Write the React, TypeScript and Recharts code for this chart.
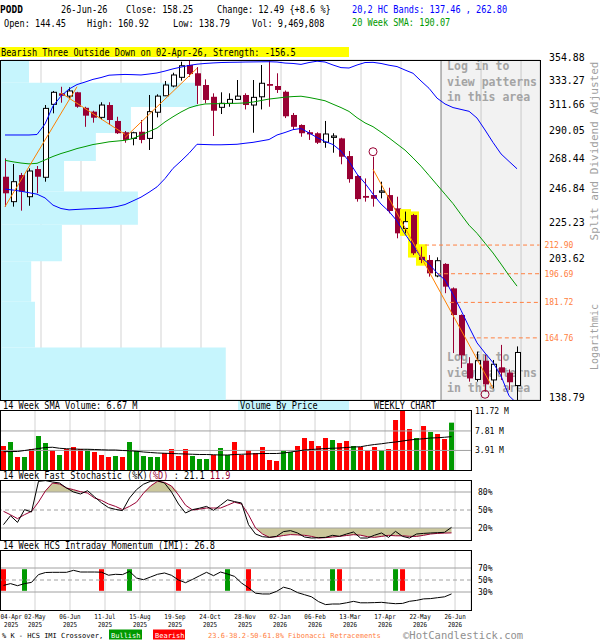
import React from 'react'
import {
  ComposedChart,
  Bar,
  Line,
  Area,
  XAxis,
  YAxis,
  CartesianGrid,
  ReferenceLine,
  ReferenceArea,
  ReferenceDot,
  Cell,
} from 'recharts'

const MONO = '"DejaVu Sans Mono", monospace'
const MAROON = '#990033'
const GREEN = '#009900'
const RED = '#ff0000'
const ORANGE = '#ff8000'
const FIB = '#ff8040'
const CYAN = '#c6f5fd'
const GRID = '#d3d3d3'
const LEVEL = '#a0a0a0'
const KHAKI = '#cbc79b'

// weekly candles, 04-Apr-2025 .. 26-Jun-2026
const opens = [
  257.1, 240.0, 258.3, 243.3, 262.6, 256.7, 314.0, 323.7, 321.2, 324.6,
  311.0, 307.7, 302.9, 313.4, 299.9, 290.7, 285.8, 291.1, 285.8, 307.2,
  321.5, 330.3, 338.3, 350.0, 342.1, 331.2, 320.6, 311.4, 314.9, 318.3,
  322.2, 313.4, 320.6, 332.1, 330.3, 325.1, 304.9, 296.6, 290.7, 289.9,
  282.8, 286.6, 285.8, 272.2, 257.6, 243.8, 244.4, 246.3, 244.4, 235.6,
  222.9, 231.3, 206.1, 204.3, 195.5, 202.1, 188.9, 175.5, 153.6, 146.9,
  154.7, 146.7, 151.9, 149.7, 144.45,
]
const highs = [
  270.5, 266.3, 259.8, 263.1, 264.8, 313.4, 325.8, 329.6, 329.1, 325.0,
  311.9, 308.5, 315.8, 315.8, 303.4, 291.7, 291.1, 300.7, 322.2, 322.8,
  334.9, 342.6, 353.2, 354.88, 348.0, 336.4, 323.7, 324.6, 323.7, 335.8,
  323.7, 335.8, 350.0, 354.5, 342.1, 326.2, 306.6, 297.1, 292.5, 290.7,
  299.9, 289.9, 286.3, 276.0, 258.3, 255.9, 271.7, 253.6, 249.4, 243.3,
  233.5, 232.0, 211.9, 207.1, 205.8, 202.5, 189.4, 175.8, 156.2, 158.6,
  157.2, 155.0, 161.6, 151.0, 160.92,
]
const lows = [
  236.7, 236.7, 234.1, 237.3, 245.6, 253.6, 306.3, 315.4, 319.7, 311.0,
  295.1, 298.5, 301.2, 296.6, 289.3, 282.4, 280.4, 282.0, 276.8, 302.9,
  321.2, 329.1, 335.2, 338.8, 314.3, 314.9, 287.7, 305.7, 311.9, 318.0,
  309.6, 290.3, 309.6, 311.9, 324.0, 302.3, 292.5, 287.1, 284.6, 281.4,
  278.5, 274.7, 266.1, 252.9, 240.0, 240.0, 236.7, 242.2, 232.4, 216.9,
  219.9, 207.1, 202.5, 195.1, 194.8, 186.4, 158.0, 151.6, 146.0, 146.0,
  142.0, 143.3, 146.7, 142.7, 138.79,
]
const closes = [
  245.6, 253.6, 246.7, 261.2, 257.1, 310.5, 324.6, 321.5, 325.8, 311.9,
  304.3, 302.6, 313.4, 300.7, 289.9, 284.6, 290.3, 284.6, 307.7, 321.2,
  331.2, 340.5, 349.3, 341.4, 330.5, 317.8, 308.5, 314.9, 318.3, 321.2,
  313.4, 320.1, 332.8, 330.5, 326.7, 303.8, 295.1, 289.9, 289.0, 282.4,
  289.3, 287.7, 271.7, 255.4, 241.7, 242.6, 241.9, 247.2, 233.9, 219.9,
  227.1, 208.1, 204.3, 196.9, 203.9, 189.8, 175.5, 157.0, 147.3, 154.7,
  144.9, 153.2, 149.7, 145.76, 158.25,
]

// 20,2 bands and 20 week SMA
const upperBand = [
  288.5, 288.5, 288.5, 288.5, 288.9, 297.4, 312.5, 321.2, 327.5, 331.6,
  333.9, 336.4, 338.1, 340.3, 340.7, 341.0, 340.8, 340.5, 341.4, 342.4,
  344.2, 346.3, 348.0, 349.6, 350.8, 351.5, 352.0, 352.4, 352.6, 352.7,
  352.9, 353.0, 353.1, 353.2, 352.9, 351.9, 351.5, 350.6, 352.4, 353.7,
  352.9, 350.0, 347.5, 347.1, 350.0, 352.4, 352.6, 351.5, 349.8, 348.5,
  345.2, 342.1, 334.9, 328.2, 319.4, 314.3, 311.2, 309.6, 308.0, 302.3,
  292.5, 282.6, 273.8, 268.2, 262.8,
]
const sma20 = [
  269.0, 267.9, 267.0, 266.4, 266.8, 269.3, 271.9, 274.1, 275.9, 277.9,
  279.4, 281.0, 282.0, 283.1, 283.7, 284.3, 285.7, 288.5, 291.3, 294.1,
  299.1, 303.4, 307.4, 310.9, 313.0, 314.3, 314.5, 314.6, 314.7, 314.9,
  315.2, 316.0, 317.3, 318.6, 319.4, 320.3, 320.8, 321.1, 320.0, 318.6,
  317.1, 314.1, 311.2, 307.9, 302.6, 298.3, 295.2, 290.8, 286.2, 281.4,
  276.7, 270.8, 264.7, 258.0, 251.4, 245.0, 238.7, 231.6, 224.9, 219.9,
  214.0, 208.3, 202.0, 195.7, 190.07,
]
const lowerBand = [
  248.5, 247.8, 247.0, 246.0, 245.0, 242.5, 237.7, 235.5, 234.6, 234.9,
  235.2, 235.4, 235.7, 236.0, 236.8, 238.1, 240.5, 243.0, 246.3, 250.0,
  255.8, 263.1, 268.5, 274.3, 281.2, 281.0, 280.8, 280.8, 281.0, 281.2,
  282.0, 282.7, 283.8, 284.9, 288.5, 290.5, 292.8, 293.7, 290.2, 286.5,
  283.4, 281.0, 276.0, 268.2, 259.0, 252.5, 245.1, 238.4, 233.6, 227.5,
  219.5, 212.6, 205.7, 202.1, 197.1, 193.3, 185.7, 177.8, 169.8, 162.5,
  158.0, 153.9, 148.3, 140.4, 137.46,
]

// volume, millions of shares
const volumes = [
  4.8, 5.6, 2.6, 2.6, 4.2, 6.8, 5.4, 4.0, 3.0, 4.2,
  4.6, 4.2, 4.1, 3.6, 3.0, 2.6, 2.8, 2.6, 5.6, 3.8,
  2.8, 2.6, 2.6, 3.4, 4.2, 2.8, 4.2, 2.8, 2.2, 2.2,
  3.0, 4.4, 3.0, 5.6, 3.0, 4.0, 3.4, 4.6, 2.0, 1.8,
  3.8, 3.6, 4.8, 6.4, 5.8, 4.8, 6.4, 6.0, 5.4, 5.8,
  4.8, 4.6, 3.8, 4.6, 4.0, 4.2, 10.0, 11.8, 8.2, 6.4,
  8.8, 7.6, 7.2, 6.2, 9.47,
]
const volumeSma = [
  3.66, 3.7, 3.7, 3.9, 4.1, 4.3, 4.5, 4.55, 4.35, 4.25,
  4.2, 4.15, 4.15, 4.1, 4.05, 4.0, 4.0, 3.9, 3.85, 3.75,
  3.6, 3.5, 3.4, 3.35, 3.3, 3.25, 3.2, 3.15, 3.1, 3.1,
  3.05, 3.0, 3.0, 3.1, 3.15, 3.2, 3.25, 3.3, 3.3, 3.3,
  3.4, 3.6, 3.8, 4.0, 4.1, 4.2, 4.3, 4.35, 4.4, 4.5,
  4.6, 4.65, 4.9, 5.1, 5.25, 5.45, 5.6, 5.8, 6.0, 6.15,
  6.25, 6.4, 6.45, 6.55, 6.67,
]

// 14 week fast stochastic
const stochK = [
  25.6, 40.5, 29.4, 50.6, 46.7, 97.8, 99, 96.7, 95, 86.7,
  80, 76.7, 82.2, 72, 62, 54, 51, 49, 70, 83.9,
  93, 97.8, 98.9, 95, 80, 60, 45, 50.6, 53, 56,
  49.4, 58, 67, 64, 61.7, 25.6, 10, 5.5, 4.4, 6.1,
  14, 15.6, 11.7, 5, 3.3, 3.9, 4.4, 7.8, 6.1, 10,
  13.3, 3.3, 3.3, 8, 11.7, 4.4, 14.4, 6, 3.3, 10,
  11, 11.7, 12.2, 12.8, 21.1,
]
const stochD = [
  47.8, 42, 35.6, 42.2, 47.8, 63.3, 82, 95, 93.3, 86.7,
  83.9, 80.5, 78.3, 70, 66, 60, 56, 50.6, 56, 63,
  78, 90, 97.8, 96, 90, 75, 58, 50, 51.5, 53.3,
  53.3, 53.3, 58, 63, 60, 42, 20, 10, 4.4, 5.5,
  7.5, 9, 8.5, 7.8, 6, 3.3, 3.9, 5, 6.1, 7.5,
  8.9, 8, 5.5, 4.4, 6, 7.8, 7, 7, 6.1, 6,
  7.8, 10, 11, 11.5, 11.9,
]

// 14 week HCS intraday momentum
const imi = [
  41, 44, 40.5, 44, 46, 59, 62.5, 62.8, 62.8, 62.8,
  66.1, 63.3, 63.3, 63.3, 63, 58, 59.5, 59, 64.4, 53.3,
  50.5, 55, 59.5, 61.7, 57.8, 50, 45.5, 51, 57, 62.8,
  57.2, 63.3, 60, 56, 45, 37, 28, 26.7, 26.7, 31,
  38, 35, 29, 25.5, 22, 14, 9, 10, 10, 12,
  14.4, 12, 12, 12.3, 12.8, 11.5, 10.5, 11, 14.5, 16,
  18.5, 19, 20.5, 22, 26.8,
]
const imiBullish = [3, 18, 32, 47, 56]
const imiBearish = [0, 14, 25, 35, 48, 57]

// three outside down pattern and marked pivots
const patternWeeks = [50, 51, 52]
const pivots = [
  { i: 46, price: 275.5 },
  { i: 60, price: 141.0 },
]
const zigzag = [
  [[0, 236.7], [9, 329.6]],
  [[7, 324.0], [15, 289.0]],
  [[15, 286.5], [24, 346.8]],
  [[46, 262.4], [61, 143.3]],
]
const fibLevels = [212.9, 196.69, 181.72, 164.76]
const fibFrom = [52.5, 54.0, 55.6, 58.1]

// price axis and volume by price (bins between consecutive ticks)
const priceTicks = [138.79, 160.4, 182.01, 203.62, 225.23, 246.84, 268.44, 290.05, 311.66, 333.27, 354.88]
const hiddenPriceTicks = [160.4, 182.01]
const vbpVolume = [41.7, 6.3, 5.6, 11.3, 25.4, 11.7, 17.6, 24.1, 36.5, 5.2]

const dateIdx = [0, 4, 9, 14, 19, 24, 29, 34, 39, 44, 49, 54, 59, 64]
const dateLabels = ['04-Apr', '02-May', '06-Jun', '11-Jul', '15-Aug', '19-Sep', '24-Oct', '28-Nov', '02-Jan', '06-Feb', '13-Mar', '17-Apr', '22-May', '26-Jun']
const yearLabels = ['2025', '2025', '2025', '2025', '2025', '2025', '2025', '2025', '2026', '2026', '2026', '2026', '2026', '2026']
const loginLines = ['Log in to', 'view patterns', 'in this area']

const rows = opens.map((open, i) => ({
  i,
  open,
  high: highs[i],
  low: lows[i],
  close: closes[i],
  upper: upperBand[i],
  sma: sma20[i],
  lower: lowerBand[i],
  vol: volumes[i],
  volSma: volumeSma[i],
  k: stochK[i],
  d: stochD[i],
  imi: imi[i],
  cross: imiBullish.includes(i) ? 'bull' : imiBearish.includes(i) ? 'bear' : null,
}))
const vbpRows = vbpVolume.map((v, n) => ({ v, lo: priceTicks[n], hi: priceTicks[n + 1] }))

const gridTicks = dateIdx.slice(1).map((i) => i + 0.5)
const labelTicks = dateIdx.map((i) => i + 0.5)
const priceDomain: [number, number] = [-0.5, 66.87]
const lowerDomain: [number, number] = [-0.5, 66.78]
const logDomain: [number, number] = [138.79, 354.88]
const priceMargin = { top: 60, right: 0, bottom: 5, left: 1 }
const layer: React.CSSProperties = { position: 'absolute', left: 0, top: 0 }

function Candle(props: any) {
  const { x, y, width, height, payload } = props
  if (!payload || !isFinite(y) || !isFinite(height)) return <g />
  const { open, high, low, close, i } = payload
  const lh = Math.log(high)
  const span = lh - Math.log(low)
  const py = (p: number) => y + (span > 0 ? ((lh - Math.log(p)) / span) * height : 0)
  const k = Math.floor(x + width / 2)
  const up = close >= open
  const top = py(Math.max(open, close))
  const bot = py(Math.min(open, close))
  return (
    <g>
      {patternWeeks.includes(i) && (
        <rect x={k - 5} y={y - 2.5} width={11} height={height + 5} fill="#ffff00" />
      )}
      <line x1={k + 0.5} x2={k + 0.5} y1={y} y2={y + height} stroke={up ? '#000' : MAROON} />
      {up ? (
        <rect x={k - 1.5} y={top} width={5} height={Math.max(bot - top, 1)} fill="#fff" stroke="#000" />
      ) : (
        <rect x={k - 2} y={top} width={6} height={Math.max(bot - top, 1.5)} fill={MAROON} />
      )}
    </g>
  )
}

function PriceTick({ x, y, payload }: any) {
  if (hiddenPriceTicks.includes(payload.value)) return <g />
  return (
    <text transform={`translate(${x} ${y + 1}) scale(0.9 1)`} fontFamily={MONO} fontSize={11} fill="#000">
      {payload.value.toFixed(2)}
    </text>
  )
}

const smallTick = (fmt: (v: number) => string) => (p: any) => (
  <text x={p.x} y={p.y + 2.8} fontFamily={MONO} fontSize={8} fill="#000">
    {fmt(p.payload.value)}
  </text>
)

function FibLabel({ viewBox, text }: any) {
  if (!viewBox) return null
  return (
    <text x={viewBox.x + viewBox.width + 5} y={viewBox.y + 3} fontFamily={MONO} fontSize={8} fill={FIB}>
      {text}
    </text>
  )
}

function LoginLabel({ viewBox }: any) {
  if (!viewBox) return null
  const { x, y, height } = viewBox
  const tops = [10, 25.5, 41]
  const bottoms = [-39, -23.5, -8]
  return (
    <g fontFamily={MONO} fontSize={11.5} fontWeight="bold" fill="#a4a4a4">
      {loginLines.map((t, n) => (
        <text key={'t' + n} x={x + 6} y={y + tops[n]}>{t}</text>
      ))}
      {loginLines.map((t, n) => (
        <text key={'b' + n} x={x + 6} y={y + height + bottoms[n]}>{t}</text>
      ))}
    </g>
  )
}

// the label axis sits under the IMI panel, whose frame ends 70px into its svg
function DateTick({ x, payload }: any) {
  const n = labelTicks.indexOf(payload.value)
  const cx = Math.max(x, 11.2)
  return (
    <g fontFamily={MONO} fontSize={6.8} fill="#000" textAnchor="middle">
      <text transform={`translate(${cx} 79.3) scale(0.87 1)`}>{dateLabels[n]}</text>
      <text transform={`translate(${cx} 87.3) scale(0.87 1)`}>{yearLabels[n]}</text>
    </g>
  )
}

function PriceYAxis({ labels }: { labels: boolean }) {
  return (
    <YAxis
      orientation="right"
      type="number"
      scale="log"
      domain={logDomain}
      ticks={priceTicks}
      interval={0}
      allowDataOverflow
      width={60}
      axisLine={false}
      tickLine={false}
      tickSize={0}
      tickMargin={9}
      tick={labels ? (p: any) => <PriceTick {...p} /> : false}
    />
  )
}

// bottom layer: the grid of the price panel
function PriceGrid() {
  return (
    <ComposedChart width={600} height={405} data={rows} margin={priceMargin}>
      <CartesianGrid stroke={GRID} />
      <XAxis dataKey="i" type="number" domain={priceDomain} ticks={gridTicks} allowDataOverflow hide />
      {PriceYAxis({ labels: false })}
    </ComposedChart>
  )
}

// middle layer: volume by price, horizontal bars against a volume axis
function VolumeByPrice() {
  return (
    <ComposedChart width={600} height={405} data={vbpRows} margin={priceMargin}>
      <XAxis dataKey="v" type="number" domain={[0, 100]} allowDataOverflow hide />
      {PriceYAxis({ labels: false })}
      {vbpRows.map((b, n) => (
        <ReferenceArea
          key={'vbp' + n}
          x1={0}
          x2={b.v}
          y1={b.lo}
          y2={b.hi}
          fill={CYAN}
          fillOpacity={1}
          stroke="none"
        />
      ))}
    </ComposedChart>
  )
}

function PriceChart() {
  return (
    <ComposedChart width={600} height={405} data={rows} margin={priceMargin}>
      <XAxis dataKey="i" type="number" domain={priceDomain} ticks={gridTicks} allowDataOverflow hide />
      {PriceYAxis({ labels: true })}
      <ReferenceArea x1={54.5} x2={66.87} fill="#808080" fillOpacity={0.1} stroke="none" label={<LoginLabel />} />
      <ReferenceLine x={54.5} stroke="#909090" />
      {fibLevels.map((lvl, n) => (
        <ReferenceLine
          key={'fib' + n}
          segment={[{ x: fibFrom[n], y: lvl }, { x: 66.8, y: lvl }]}
          stroke={FIB}
          strokeDasharray="4 3"
          label={<FibLabel text={lvl.toFixed(2)} />}
        />
      ))}
      <Bar dataKey={(r: any) => [r.low, r.high]} barSize={6} shape={(p: any) => <Candle {...p} />} isAnimationActive={false} />
      <Line dataKey="upper" stroke="#0000ff" strokeWidth={1} dot={false} activeDot={false} isAnimationActive={false} />
      <Line dataKey="sma" stroke={GREEN} strokeWidth={1} dot={false} activeDot={false} isAnimationActive={false} />
      <Line dataKey="lower" stroke="#0000ff" strokeWidth={1} dot={false} activeDot={false} isAnimationActive={false} />
      {zigzag.map((s, n) => (
        <ReferenceLine
          key={'zz' + n}
          segment={[{ x: s[0][0], y: s[0][1] }, { x: s[1][0], y: s[1][1] }]}
          stroke={ORANGE}
        />
      ))}
      {pivots.map((p) => (
        <ReferenceDot key={'pv' + p.i} x={p.i} y={p.price} r={4} fill="none" stroke={MAROON} />
      ))}
    </ComposedChart>
  )
}

function VolumeChart() {
  return (
    <ComposedChart width={600} height={75} data={rows} margin={{ top: 10, right: 0, bottom: 5, left: 0 }}>
      <CartesianGrid stroke={GRID} horizontal={false} />
      <XAxis dataKey="i" type="number" domain={lowerDomain} ticks={gridTicks} allowDataOverflow hide />
      <YAxis
        orientation="right"
        type="number"
        domain={[0, 12]}
        ticks={[3.91, 7.81, 11.72]}
        interval={0}
        width={129}
        axisLine={false}
        tickLine={false}
        tickSize={0}
        tickMargin={4}
        tick={smallTick((v) => `${v} M`)}
      />
      <ReferenceLine y={3.91} stroke={LEVEL} />
      <ReferenceLine y={7.81} stroke={LEVEL} />
      <Bar dataKey="vol" barSize={5} isAnimationActive={false}>
        {rows.map((r) => (
          <Cell key={r.i} fill={r.close >= r.open ? GREEN : RED} />
        ))}
      </Bar>
      <Line dataKey="volSma" stroke="#000" strokeWidth={1} dot={false} activeDot={false} isAnimationActive={false} />
    </ComposedChart>
  )
}

function StochChart() {
  return (
    <ComposedChart width={600} height={75} data={rows} margin={{ top: 10, right: 0, bottom: 5, left: 0 }}>
      <CartesianGrid stroke={GRID} horizontal={false} />
      <XAxis dataKey="i" type="number" domain={lowerDomain} ticks={gridTicks} allowDataOverflow hide />
      <YAxis
        orientation="right"
        type="number"
        domain={[0, 100]}
        ticks={[20, 50, 80]}
        interval={0}
        width={129}
        axisLine={false}
        tickLine={false}
        tickSize={0}
        tickMargin={7}
        tick={smallTick((v) => `${v}%`)}
      />
      <Area
        dataKey={(r: any) => [80, Math.max(80, r.d)]}
        stroke="none"
        fill={KHAKI}
        fillOpacity={1}
        isAnimationActive={false}
      />
      <Area
        dataKey={(r: any) => [Math.min(20, r.d), 20]}
        stroke="none"
        fill={KHAKI}
        fillOpacity={1}
        isAnimationActive={false}
      />
      <ReferenceLine y={80} stroke={LEVEL} />
      <ReferenceLine y={50} stroke={LEVEL} strokeDasharray="4 3" />
      <ReferenceLine y={20} stroke={LEVEL} />
      <Line dataKey="d" stroke={MAROON} strokeWidth={1} dot={false} activeDot={false} isAnimationActive={false} />
      <Line dataKey="k" stroke="#000" strokeWidth={1} dot={false} activeDot={false} isAnimationActive={false} />
    </ComposedChart>
  )
}

function ImiChart() {
  return (
    <ComposedChart width={600} height={100} data={rows} margin={{ top: 10, right: 0, bottom: 0, left: 0 }}>
      <CartesianGrid stroke={GRID} horizontal={false} />
      <XAxis dataKey="i" type="number" domain={lowerDomain} ticks={gridTicks} allowDataOverflow hide />
      <XAxis
        xAxisId="lbl"
        dataKey="i"
        type="number"
        domain={lowerDomain}
        ticks={labelTicks}
        interval={0}
        allowDataOverflow
        height={30}
        axisLine={false}
        tickLine={false}
        tickSize={0}
        tickMargin={0}
        tick={(p: any) => <DateTick {...p} />}
      />
      <YAxis
        orientation="right"
        type="number"
        domain={[0, 100]}
        ticks={[30, 50, 70]}
        interval={0}
        width={129}
        axisLine={false}
        tickLine={false}
        tickSize={0}
        tickMargin={7}
        tick={smallTick((v) => `${v}%`)}
      />
      <ReferenceLine y={70} stroke={LEVEL} />
      <ReferenceLine y={50} stroke={LEVEL} strokeDasharray="4 3" />
      <ReferenceLine y={30} stroke={LEVEL} />
      <Bar dataKey={(r: any) => (r.cross ? [32, 68] : null)} barSize={5} isAnimationActive={false}>
        {rows.map((r) => (
          <Cell key={r.i} fill={r.cross === 'bull' ? GREEN : r.cross === 'bear' ? RED : 'none'} />
        ))}
      </Bar>
      <Line dataKey="imi" stroke="#000" strokeWidth={1} dot={false} activeDot={false} isAnimationActive={false} />
    </ComposedChart>
  )
}

function T({ x, y, size = 10, sx = 0.86, fill = '#000', bold = false, children }: any) {
  return (
    <text
      transform={`translate(${x} ${y}) scale(${sx} 1)`}
      fontFamily={MONO}
      fontSize={size}
      fontWeight={bold ? 'bold' : 'normal'}
      fill={fill}
    >
      {children}
    </text>
  )
}

function Overlay() {
  return (
    <svg width={600} height={640} style={{ position: 'absolute', left: 0, top: 0, pointerEvents: 'none' }}>
      <T x={0} y={13} sx={0.95} bold>PODD</T>
      <T x={61} y={13}>26-Jun-26</T>
      <T x={126} y={13}>Close: 158.25</T>
      <T x={217} y={13}>Change: 12.49 {'{+8.6 %}'}</T>
      <T x={352} y={12.5} fill="#0000ff">20,2 HC Bands: 137.46 , 262.80</T>
      <T x={4} y={27}>Open: 144.45</T>
      <T x={87} y={27}>High: 160.92</T>
      <T x={173} y={27}>Low: 138.79</T>
      <T x={252} y={27}>Vol: 9,469,808</T>
      <T x={352} y={26} fill={GREEN}>20 Week SMA: 190.07</T>

      <rect x={0} y={47} width={349} height={10} fill="#ffff00" />
      <T x={1} y={55.5}>Bearish Three Outside Down on 02-Apr-26, Strength: -156.5</T>

      <text transform="translate(598 151) rotate(-90)" textAnchor="middle" fontFamily={MONO} fontSize={11} fill={LEVEL}>
        Split and Dividend Adjusted
      </text>
      <text transform="translate(598 337) rotate(-90)" textAnchor="middle" fontFamily={MONO} fontSize={10} fill={LEVEL}>
        Logarithmic
      </text>

      <T x={3} y={409.3}>14 Week SMA Volume: 6.67 M</T>
      <rect x={238} y={400.5} width={111} height={9.5} fill={CYAN} />
      <T x={240} y={409.3}>Volume By Price</T>
      <T x={374} y={409.3}>WEEKLY CHART</T>

      <text transform="translate(3 479) scale(0.86 1)" fontFamily={MONO} fontSize={10} fill="#000">
        14 Week Fast Stochastic (%K)<tspan fill={MAROON}>(%D)</tspan> : 21.1 <tspan fill={MAROON}>11.9</tspan>
      </text>
      <T x={3} y={548.5}>14 Week HCS Intraday Momentum (IMI): 26.8</T>

      <rect x={0.5} y={60.5} width={540} height={340} fill="none" stroke="#000" />
      <rect x={0.5} y={410.5} width={471} height={60} fill="none" stroke="#000" />
      <rect x={0.5} y={480.5} width={471} height={60} fill="none" stroke="#000" />
      <rect x={0.5} y={550.5} width={471} height={60} fill="none" stroke="#000" />

      <T x={2} y={637.5} size={7} sx={1}>% K - HCS IMI Crossover,</T>
      <rect x={109} y={629.5} width={33} height={10} fill={GREEN} />
      <T x={111} y={637.5} size={7} sx={1} fill="#fff">Bullish</T>
      <rect x={153} y={629.5} width={32} height={10} fill={RED} />
      <T x={155} y={637.5} size={7} sx={1} fill="#fff">Bearish</T>
      <T x={208} y={637.5} size={7} sx={1} fill={FIB}>23.6-38.2-50-61.8% Fibonacci Retracements</T>
      <T x={403} y={638.5} size={10.5} sx={1} fill="#909090">©HotCandlestick.com</T>
    </svg>
  )
}

export default function App() {
  return (
    <div style={{ position: 'absolute', left: 0, top: 0, width: 600, height: 640, background: '#fff', overflow: 'hidden' }}>
      <div style={layer}>
        <PriceGrid />
      </div>
      <div style={layer}>
        <VolumeByPrice />
      </div>
      <div style={layer}>
        <PriceChart />
      </div>
      <div style={{ ...layer, top: 400 }}>
        <VolumeChart />
      </div>
      <div style={{ ...layer, top: 470 }}>
        <StochChart />
      </div>
      <div style={{ ...layer, top: 540 }}>
        <ImiChart />
      </div>
      <Overlay />
    </div>
  )
}
